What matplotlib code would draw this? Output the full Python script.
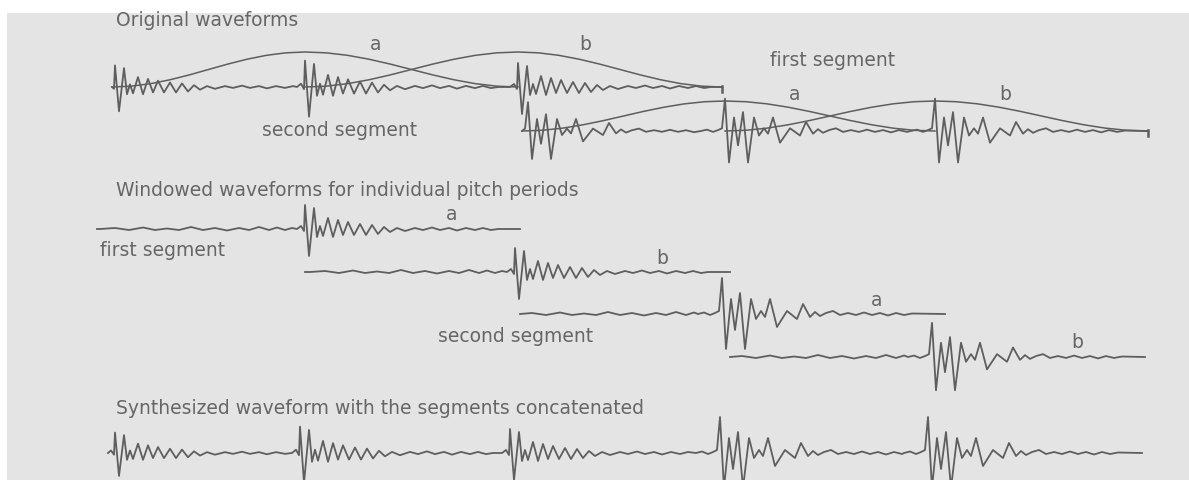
import numpy as np
import matplotlib.pyplot as plt
from matplotlib.patches import Rectangle

# pitch pulse shapes: offset from the excitation point (px) and height above baseline (px)
pulse_a_dx = [-8, -4, -1, 0, 4, 9, 12, 15, 18, 23, 28, 33, 38, 43, 49, 55, 61, 67, 73,
              79, 85, 92, 100, 110, 118, 127, 135, 144, 152, 161, 170, 178, 186, 193]
pulse_a_amp = [0, 3, -2, 24, -27, 21, -8, 3, -7, 11, -8, 9, -6, 7, -6, 5, -6, 4, -5,
               2, -3, 1, -2, 1, -1, 1.5, -1, 1, -1.5, 1, -1, 1, -1, 0]
pulse_b_dx = [-24, -18, -12, -7, -3, 0, 4, 9, 13, 18, 23, 29, 34, 39, 43, 48, 55, 65, 75,
              81, 88, 93, 98, 104, 111, 118, 126, 134, 142, 150, 158, 166, 174, 182, 190]
pulse_b_amp = [0, 1.5, -1, 1, 3, 36, -35, 15, -16, 21, -35, 15, -5, 3, -3, 15, -13, 3, -5,
               10, -3, 2, -2, 1, 3, -1, 1, -1, 1.5, -1, 1, -1.5, 1, -1, 0.5]
# low-level ripple ahead of a pulse
lead_dx = [-205, -190, -176, -162, -150, -138, -126, -114, -102, -90, -78, -66, -56, -46,
           -36, -28, -20, -13]
lead_amp = [0, 1, -1, 1.5, -1, 0.5, -1, 2, -1, 1, -1.5, 1, -1, 2, -1, 1.5, -1, 1]

# half of the raised-cosine analysis window, rising 0 -> 1
window_half = [0.0, 0.024, 0.095, 0.206, 0.345, 0.5, 0.655, 0.794, 0.905, 0.976, 1.0]

# original waveforms (pixel positions of pitch marks)
orig1_pulses = [115, 305, 518]
orig1_kinds = ['A', 'A', 'A']
orig1_gain = [0.9, 1.1, 1.0]
orig1_span = (112, 722)
orig1_base = 87
orig1_windows = [(112, 305, 518), (305, 518, 722)]
orig1_win_height = 35

orig2_pulses = [528, 725, 935]
orig2_kinds = ['B', 'B', 'B']
orig2_gain = [0.8, 0.9, 0.9]
orig2_span = (522, 1148)
orig2_base = 131
orig2_windows = [(522, 725, 935), (725, 935, 1148)]
orig2_win_height = 30

window_labels = ['a', 'b']

# windowed single periods
wind_pulses = [305, 515, 722, 932]
wind_kinds = ['A', 'A', 'B', 'B']
wind_gain = [1.0, 1.0, 1.0, 0.95]
wind_start = [97, 305, 520, 730]
wind_end = [520, 730, 945, 1145]
wind_base = [229, 272, 314, 357]
wind_labels = ['a', 'b', 'a', 'b']

# synthesized output
synth_pulses = [115, 300, 510, 720, 928]
synth_kinds = ['A', 'A', 'A', 'B', 'B']
synth_gain = [0.85, 1.1, 1.0, 1.0, 1.0]
synth_span = (108, 1142)
synth_base = 453

shapes = {'A': (pulse_a_dx, pulse_a_amp), 'B': (pulse_b_dx, pulse_b_amp)}

ink = '#5e5e5e'
text_ink = '#666666'
fs = 13.5
lw = 1.3


def build_trace(pulses, kinds, gains, start, end):
    xs, ys = [], []
    first = pulses[0] + shapes[kinds[0]][0][0]
    for dx, a in zip(lead_dx, lead_amp):
        x = pulses[0] + dx
        if start <= x < first:
            xs.append(x)
            ys.append(a)
    for i, p in enumerate(pulses):
        dxs, amps = shapes[kinds[i]]
        if i + 1 < len(pulses):
            stop = pulses[i + 1] + shapes[kinds[i + 1]][0][0]
        else:
            stop = end
        for dx, a in zip(dxs, amps):
            x = p + dx
            if start <= x < stop:
                xs.append(x)
                ys.append(a * gains[i])
    if not xs or xs[0] > start:
        xs.insert(0, start)
        ys.insert(0, 0)
    xs.append(end)
    ys.append(0)
    return np.array(xs), np.array(ys)


def draw_window(ax, start, peak, end, base, height):
    w = np.array(window_half)
    u = np.linspace(0, 1, len(w))
    x = np.concatenate([start + (peak - start) * u, peak + (end - peak) * u[1:]])
    h = np.concatenate([w, w[::-1][1:]])
    ax.plot(x, base - height * h, color=ink, lw=1.1)


fig = plt.figure(figsize=(11.89, 4.8), dpi=100)
ax = fig.add_axes([0, 0, 1, 1])
ax.set_xlim(0, 1189)
ax.set_ylim(480, 0)
ax.axis('off')
ax.add_patch(Rectangle((7, 13), 1182, 467, facecolor='#e4e4e4', edgecolor='none'))

# original waveforms with their analysis windows
ax.text(116, 20, 'Original waveforms', fontsize=fs, color=text_ink, va='center')
for pulses, kinds, gain, span, base, wins, wh in [
        (orig1_pulses, orig1_kinds, orig1_gain, orig1_span, orig1_base, orig1_windows, orig1_win_height),
        (orig2_pulses, orig2_kinds, orig2_gain, orig2_span, orig2_base, orig2_windows, orig2_win_height)]:
    x, y = build_trace(pulses, kinds, gain, *span)
    ax.plot(x, base - y, color=ink, lw=lw)
    for (s, p, e), lab in zip(wins, window_labels):
        draw_window(ax, s, p, e, base, wh)
        ax.text(p + (e - p) * 0.33, base - wh - 7, lab, fontsize=fs, color=text_ink,
                ha='center', va='center')
    ax.plot([span[1], span[1]], [base - 1, base + 5], color=ink, lw=1.8)

ax.text(770, 61, 'first segment', fontsize=fs, color=text_ink, va='center')
ax.text(262, 131, 'second segment', fontsize=fs, color=text_ink, va='center')

# windowed periods
ax.text(116, 191, 'Windowed waveforms for individual pitch periods', fontsize=fs,
        color=text_ink, va='center')
for p, k, g, s, e, base, lab in zip(wind_pulses, wind_kinds, wind_gain, wind_start,
                                    wind_end, wind_base, wind_labels):
    x, y = build_trace([p], [k], [g], s, e)
    ax.plot(x, base - y, color=ink, lw=lw)
    ax.text(e - 68, base - 14, lab, fontsize=fs, color=text_ink, ha='center', va='center')

ax.text(100, 250, 'first segment', fontsize=fs, color=text_ink, va='center')
ax.text(438, 336, 'second segment', fontsize=fs, color=text_ink, va='center')

# overlap-added result
ax.text(116, 409, 'Synthesized waveform with the segments concatenated', fontsize=fs,
        color=text_ink, va='center')
x, y = build_trace(synth_pulses, synth_kinds, synth_gain, *synth_span)
ax.plot(x, synth_base - y, color=ink, lw=lw)

fig.savefig('out.png', dpi=100, facecolor='white')
